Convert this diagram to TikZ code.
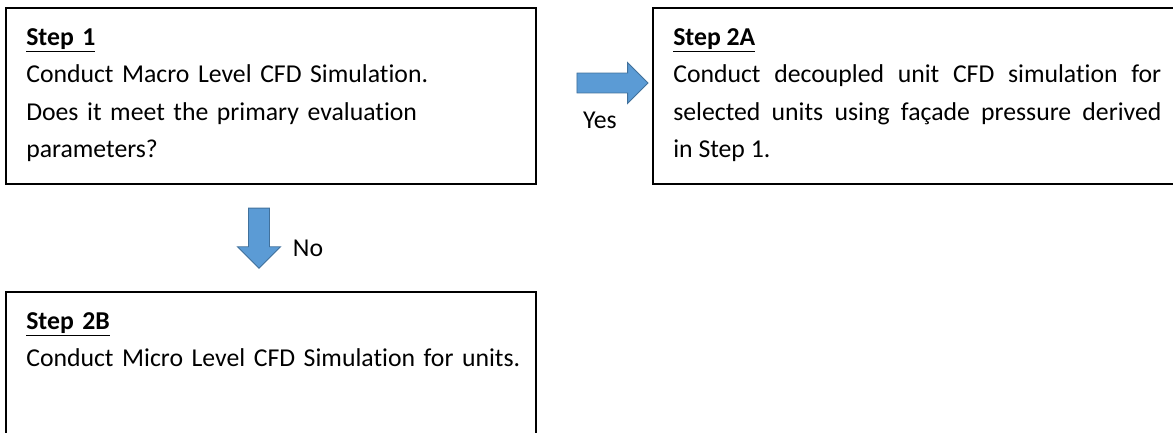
\documentclass[tikz,border=0pt]{standalone}
\usepackage{fontspec}
\setmainfont{Carlito}[Ligatures=NoCommon]
\usetikzlibrary{shapes.arrows,positioning}
\definecolor{arrowfill}{HTML}{5B9BD5}
\definecolor{arrowline}{HTML}{41719C}

\begin{document}
\begin{tikzpicture}[x=0.025cm,y=-0.025cm,font=\fontsize{18.3pt}{26.6pt}\selectfont,
  stepbox/.style={draw,line width=1.2pt,anchor=north west,inner sep=0pt,minimum width=13.25cm,minimum height=4.4cm},
  steptext/.style={anchor=north west,inner sep=0pt,text width=12.2cm},
  blockarrow/.style={single arrow,draw=arrowline,fill=arrowfill,line width=0.7pt,single arrow head indent=0pt}]
\useasboundingbox (0,0) rectangle (1173,433);
\clip (0,0) rectangle (1173,433);
\node[stepbox] (s1) at (5,7) {};
\node[stepbox] (s2a) at (652,7) {};
\node[stepbox] (s2b) at (5,291) {};
\node[steptext,text width=12.8cm,align=left,below right=0.53cm and 0.525cm of s1.north west] (t1) {\underline{\textbf{Step 1}}\\Conduct Macro Level CFD Simulation.\\Does it meet the primary evaluation\\parameters?};
\node[steptext,align=justify,below right=0.53cm and 0.525cm of s2a.north west] (t2a) {\underline{\textbf{Step 2A}}\linebreak Conduct decoupled unit CFD simulation for\linebreak selected units using façade pressure derived\linebreak in Step 1.};
\node[steptext,text width=12.8cm,align=left,below right=0.53cm and 0.525cm of s2b.north west] (t2b) {\underline{\textbf{Step 2B}}\\Conduct Micro Level CFD Simulation for units.};
\node[blockarrow,inner xsep=0pt,inner ysep=0.2375cm,minimum height=1.775cm,single arrow head extend=0.2625cm] (yes) at (607.5,83) {};
\node[blockarrow,inner xsep=0.25cm,inner ysep=0pt,shape border rotate=270,minimum height=1.5cm,single arrow head extend=0.275cm] (no) at (259,233) {};
\node (yeslbl) at (600,120) {Yes};
\node (nolbl) at (308,248) {No};
\end{tikzpicture}
\end{document}
